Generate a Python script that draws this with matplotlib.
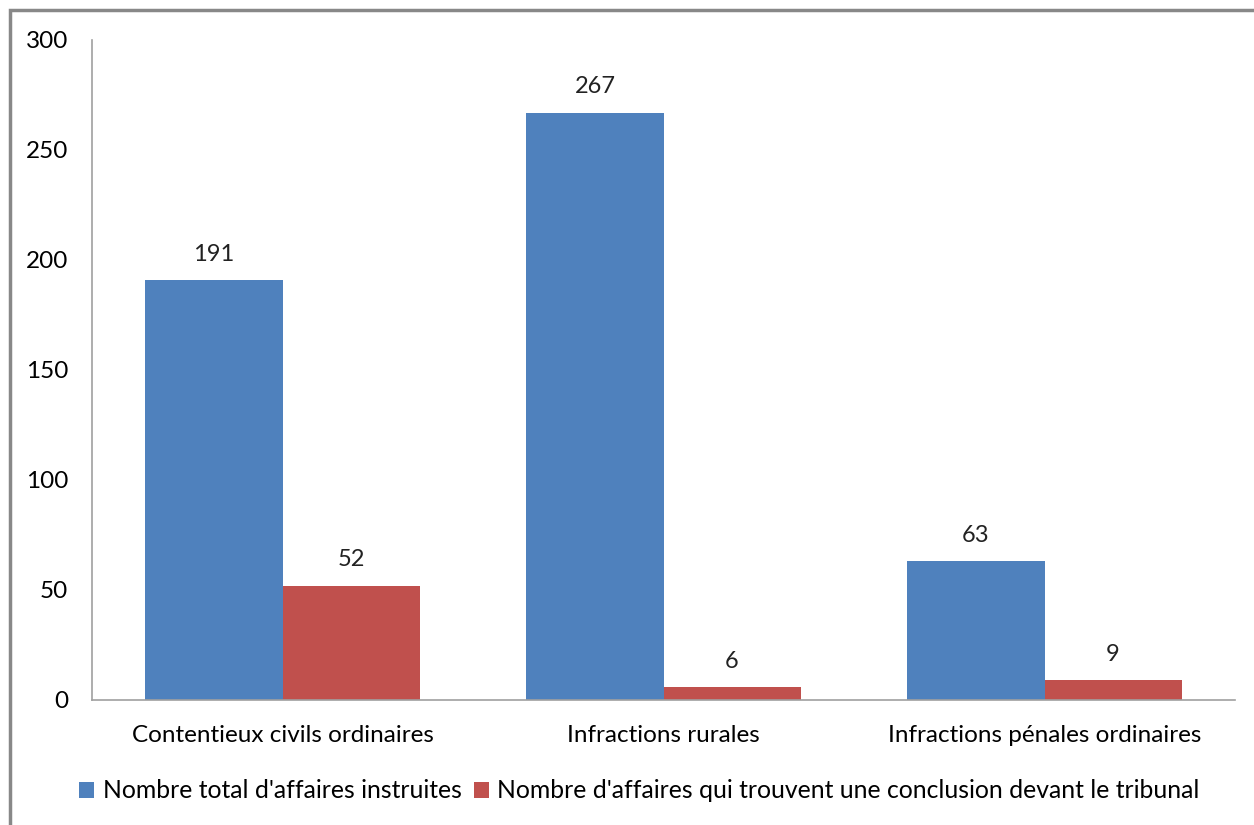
import matplotlib.pyplot as plt
import matplotlib.patches as mpatches
import numpy as np

categories = ["Contentieux civils ordinaires", "Infractions rurales", "Infractions pénales ordinaires"]
total_affaires = [191, 267, 63]
conclusion_tribunal = [52, 6, 9]
series_labels = ["Nombre total d'affaires instruites",
                 "Nombre d'affaires qui trouvent une conclusion devant le tribunal"]

blue = "#4f81bd"
red = "#c0504d"

plt.rcParams['font.family'] = ['Lato', 'DejaVu Sans']

fig = plt.figure(figsize=(12.54, 8.25), dpi=100)
ax = fig.add_axes([92 / 1254, 1 - 700 / 825, (1235 - 92) / 1254, 660 / 825])

# gray frame around the chart area
fig.patches.append(mpatches.Rectangle((10 / 1254, -0.05), 1.2, 1 - 10 / 825 + 0.05,
                                      transform=fig.transFigure, fill=False,
                                      edgecolor="#888888", linewidth=2.5))

x = np.arange(len(categories))
w = 0.36
b1 = ax.bar(x - w / 2, total_affaires, w, color=blue, label=series_labels[0])
b2 = ax.bar(x + w / 2, conclusion_tribunal, w, color=red, label=series_labels[1])

for bars, vals in ((b1, total_affaires), (b2, conclusion_tribunal)):
    for bar, v in zip(bars, vals):
        ax.annotate(str(v), (bar.get_x() + bar.get_width() / 2, v),
                    xytext=(0, 11), textcoords="offset points",
                    ha="center", va="bottom", fontsize=17, color="#222222")

ax.set_xlim(-0.5, 2.5)
ax.set_ylim(0, 300)
ax.set_yticks(range(0, 301, 50))
ax.set_xticks(x)
ax.set_xticklabels(categories, fontsize=17.5)
ax.tick_params(axis="y", length=0, pad=17, labelsize=17.5)
ax.tick_params(axis="x", length=0, pad=18)
for s in ("top", "right"):
    ax.spines[s].set_visible(False)
for s in ("left", "bottom"):
    ax.spines[s].set_color("#a0a0a0")
    ax.spines[s].set_linewidth(1.2)

fig.legend(handles=[b1, b2], labels=series_labels, loc="center",
           bbox_to_anchor=(0.51, 1 - 791 / 825), ncol=2, frameon=False,
           fontsize=17.8, handlelength=0.6, handleheight=0.6,
           handletextpad=0.35, columnspacing=0.5)

fig.savefig("out.png", dpi=100)
